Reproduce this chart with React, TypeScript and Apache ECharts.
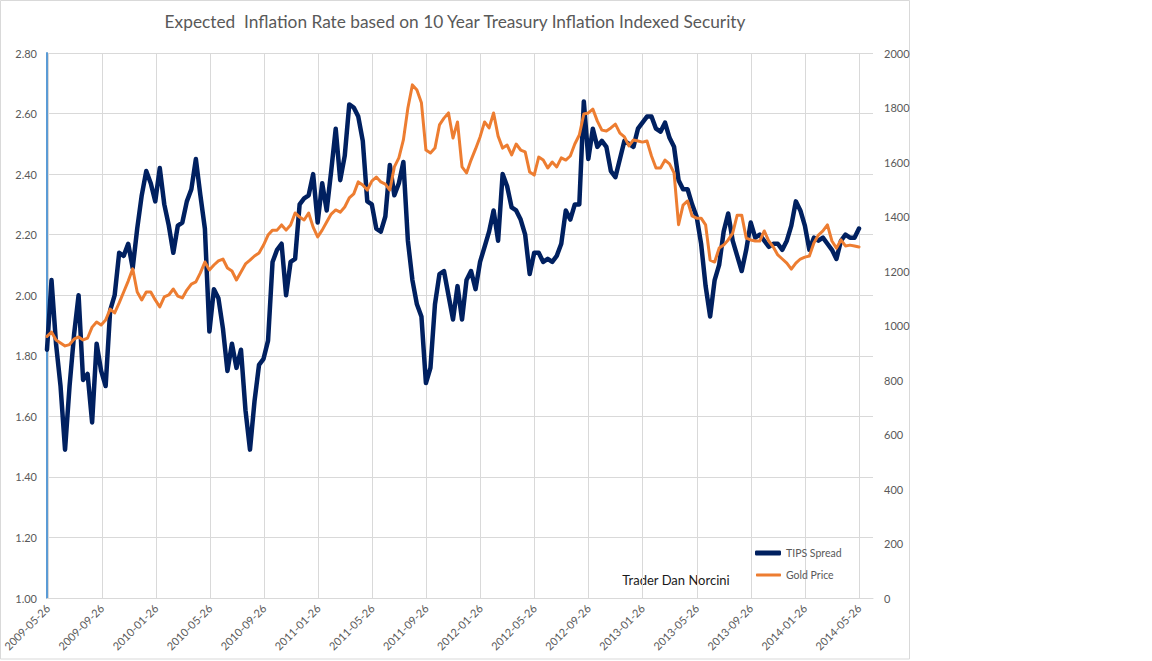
import { useEffect, useRef } from 'react';
import * as echarts from 'echarts';

const TITLE = 'Expected  Inflation Rate based on 10 Year Treasury Inflation Indexed Security';
const CREDIT = 'Trader Dan Norcini';

const TICK_LABELS = [
  '2009-05-26', '2009-09-26', '2010-01-26', '2010-05-26', '2010-09-26', '2011-01-26',
  '2011-05-26', '2011-09-26', '2012-01-26', '2012-05-26', '2012-09-26', '2013-01-26',
  '2013-05-26', '2013-09-26', '2014-01-26', '2014-05-26',
];

// one sample every third of a month, starting 2009-05-26
const STEP_MONTHS = 1 / 3;

const TIPS_SPREAD = [
  1.82, 2.05, 1.84, 1.70, 1.49, 1.70, 1.87, 2.00, 1.72, 1.74,
  1.58, 1.84, 1.75, 1.70, 1.95, 2.00, 2.14, 2.13, 2.17, 2.09,
  2.22, 2.33, 2.41, 2.37, 2.31, 2.42, 2.30, 2.23, 2.14, 2.23,
  2.24, 2.31, 2.35, 2.45, 2.33, 2.22, 1.88, 2.02, 1.99, 1.89,
  1.75, 1.84, 1.76, 1.82, 1.62, 1.49, 1.65, 1.77, 1.79, 1.85,
  2.11, 2.15, 2.17, 2.00, 2.11, 2.12, 2.30, 2.32, 2.33, 2.40,
  2.24, 2.37, 2.28, 2.41, 2.55, 2.38, 2.46, 2.63, 2.62, 2.59,
  2.51, 2.31, 2.30, 2.22, 2.21, 2.26, 2.43, 2.33, 2.37, 2.44,
  2.18, 2.05, 1.97, 1.93, 1.71, 1.76, 1.97, 2.07, 2.08, 2.00,
  1.92, 2.03, 1.92, 2.05, 2.08, 2.02, 2.11, 2.16, 2.21, 2.28,
  2.18, 2.40, 2.36, 2.29, 2.28, 2.25, 2.20, 2.07, 2.14, 2.14,
  2.11, 2.12, 2.11, 2.13, 2.17, 2.28, 2.25, 2.30, 2.30, 2.64,
  2.45, 2.55, 2.49, 2.51, 2.49, 2.41, 2.39, 2.45, 2.51, 2.50,
  2.49, 2.55, 2.57, 2.59, 2.59, 2.55, 2.54, 2.57, 2.52, 2.49,
  2.38, 2.35, 2.35, 2.30, 2.26, 2.17, 2.03, 1.93, 2.05, 2.10,
  2.21, 2.27, 2.18, 2.13, 2.08, 2.15, 2.24, 2.19, 2.20, 2.18,
  2.16, 2.17, 2.17, 2.15, 2.18, 2.23, 2.31, 2.28, 2.23, 2.15,
  2.19, 2.18, 2.19, 2.17, 2.15, 2.12, 2.18, 2.20, 2.19, 2.19,
  2.22,
];

const GOLD_PRICE = [
  960, 976, 947, 936, 925, 930, 950, 958, 947, 954,
  994, 1013, 1002, 1020, 1060, 1046, 1083, 1123, 1163, 1208,
  1123, 1094, 1123, 1123, 1094, 1068, 1105, 1112, 1134, 1108,
  1101, 1130, 1152, 1160, 1193, 1233, 1204, 1222, 1237, 1244,
  1211, 1200, 1167, 1196, 1226, 1240, 1255, 1266, 1295, 1332,
  1350, 1350, 1369, 1350, 1369, 1413, 1398, 1387, 1413, 1361,
  1325, 1350, 1380, 1409, 1424, 1416, 1435, 1468, 1483, 1527,
  1516, 1497, 1530, 1545, 1527, 1519, 1497, 1582, 1615, 1681,
  1798, 1883, 1864, 1817, 1644, 1633, 1651, 1736, 1761, 1780,
  1688, 1747, 1582, 1560, 1607, 1648, 1692, 1747, 1725, 1780,
  1695, 1651, 1662, 1626, 1666, 1644, 1637, 1563, 1552, 1618,
  1607, 1578, 1600, 1582, 1615, 1607, 1622, 1666, 1699, 1776,
  1780, 1794, 1750, 1717, 1714, 1725, 1739, 1706, 1692, 1659,
  1681, 1677, 1673, 1677, 1622, 1578, 1578, 1607, 1593, 1560,
  1370, 1442, 1457, 1402, 1394, 1394, 1369, 1240, 1233, 1284,
  1295, 1314, 1339, 1405, 1405, 1321, 1314, 1310, 1310, 1347,
  1310, 1288, 1259, 1244, 1229, 1207, 1229, 1244, 1251, 1255,
  1303, 1332, 1347, 1369, 1310, 1284, 1314, 1292, 1295, 1292,
  1288,
];

const FONT = 'Lato, "Liberation Sans", Arial, sans-serif';
const LABEL_COLOR = '#595959';
const GRID_COLOR = '#d9d9d9';

export default function App() {
  const ref = useRef<HTMLDivElement>(null);

  useEffect(() => {
    if (!ref.current) return;
    const chart = echarts.init(ref.current, undefined, { renderer: 'svg' });

    const tipsData = TIPS_SPREAD.map((v, i) => [i * STEP_MONTHS, v]);
    const goldData = GOLD_PRICE.map((v, i) => [i * STEP_MONTHS, v]);
    const lastTick = (TICK_LABELS.length - 1) * 4;
    const axisEnd = lastTick * (826 / 812);

    chart.setOption({
      animation: false,
      backgroundColor: '#ffffff',
      textStyle: { fontFamily: FONT },
      grid: [
        { left: 47, top: 53, width: 826, height: 545, containLabel: false },
        { left: 47, top: 53, width: 812, height: 545, containLabel: false },
      ],
      xAxis: [
        {
          type: 'value', gridIndex: 0, min: 0, max: axisEnd,
          axisLine: { show: true, lineStyle: { color: GRID_COLOR, width: 1 } },
          axisTick: { show: false }, axisLabel: { show: false }, splitLine: { show: false },
        },
        {
          type: 'value', gridIndex: 1, min: 0, max: lastTick, interval: 4,
          axisLine: { show: false }, axisTick: { show: false },
          splitLine: { show: true, lineStyle: { color: GRID_COLOR, width: 1 } },
          axisLabel: {
            show: true, rotate: 45, margin: 8, color: LABEL_COLOR, fontSize: 11, fontFamily: FONT,
            formatter: (v: number) => {
              const k = Math.round(v / 4);
              return Math.abs(v - k * 4) < 1e-6 && TICK_LABELS[k] ? TICK_LABELS[k] : '';
            },
          },
        },
      ],
      yAxis: [
        {
          type: 'value', gridIndex: 0, position: 'left', min: 1, max: 2.8, interval: 0.2,
          axisLine: { show: true, lineStyle: { color: '#5b9bd5', width: 2 } },
          axisTick: { show: false },
          splitLine: { show: true, lineStyle: { color: GRID_COLOR, width: 1 } },
          axisLabel: {
            color: LABEL_COLOR, fontSize: 11, fontFamily: FONT, margin: 10,
            formatter: (v: number) => v.toFixed(2),
          },
        },
        {
          type: 'value', gridIndex: 0, position: 'right', min: 0, max: 2000, interval: 200,
          axisLine: { show: false }, axisTick: { show: false }, splitLine: { show: false },
          axisLabel: {
            color: LABEL_COLOR, fontSize: 11, fontFamily: FONT, margin: 11,
            formatter: (v: number) => String(Math.round(v)),
          },
        },
        { type: 'value', gridIndex: 1, show: false, min: 0, max: 1, splitLine: { show: false } },
      ],
      legend: [
        {
          data: ['TIPS Spread'], left: 755, top: 547.5, padding: 0, orient: 'vertical',
          icon: 'roundRect', itemWidth: 26, itemHeight: 5, selectedMode: false,
          textStyle: { color: LABEL_COLOR, fontSize: 10.5, fontFamily: FONT },
        },
        {
          data: ['Gold Price'], left: 756, top: 569.5, padding: 0, orient: 'vertical',
          icon: 'roundRect', itemWidth: 25, itemHeight: 3, selectedMode: false,
          textStyle: { color: LABEL_COLOR, fontSize: 10.5, fontFamily: FONT },
        },
      ],
      graphic: [
        {
          type: 'rect', silent: true, z: -10,
          shape: { x: 0.5, y: 0.5, width: 909, height: 658.5 },
          style: { fill: 'none', stroke: GRID_COLOR, lineWidth: 1 },
        },
        {
          type: 'text', x: 455, y: 21,
          style: {
            text: TITLE, fill: LABEL_COLOR, fontSize: 17.3, fontFamily: FONT,
            textAlign: 'center', textVerticalAlign: 'middle',
          },
        },
        {
          type: 'text', x: 676, y: 580,
          style: {
            text: CREDIT, fill: '#1a1a1a', fontSize: 13, fontFamily: FONT,
            textAlign: 'center', textVerticalAlign: 'middle',
          },
        },
      ],
      series: [
        {
          name: 'TIPS Spread', type: 'line', xAxisIndex: 0, yAxisIndex: 0,
          data: tipsData, symbol: 'none', showSymbol: false,
          lineStyle: { color: '#002060', width: 4.5, join: 'round', cap: 'round' },
          itemStyle: { color: '#002060' },
        },
        {
          name: 'Gold Price', type: 'line', xAxisIndex: 0, yAxisIndex: 1,
          data: goldData, symbol: 'none', showSymbol: false,
          lineStyle: { color: '#ed7d31', width: 3, join: 'round', cap: 'round' },
          itemStyle: { color: '#ed7d31' },
        },
      ],
    });

    return () => chart.dispose();
  }, []);

  return (
    <div
      ref={ref}
      style={{ position: 'absolute', left: 0, top: 0, width: 1152, height: 661, background: '#ffffff' }}
    />
  );
}
